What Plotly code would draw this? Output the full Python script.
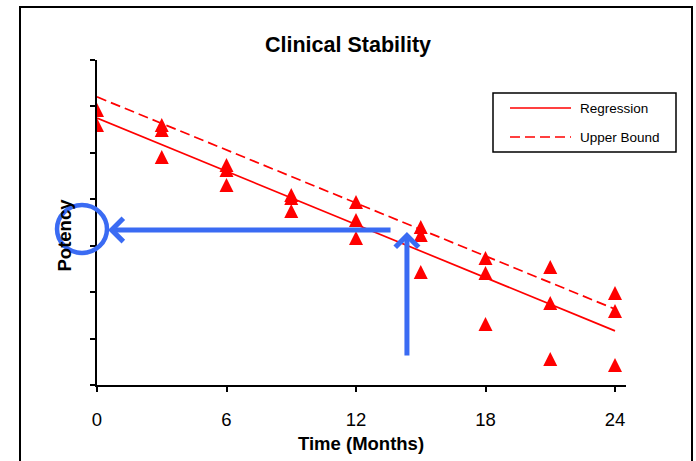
import plotly.graph_objects as go

# Stability data: potency of each batch at each pull point
months = [0, 0, 3, 3, 3, 6, 6, 6, 9, 9, 9, 12, 12, 12,
          15, 15, 15, 18, 18, 18, 21, 21, 21, 24, 24, 24]
potency = [97.85, 97.20, 97.20, 96.98, 95.82, 95.48, 95.26, 94.62,
           94.18, 94.06, 93.50, 93.88, 93.11, 92.33, 92.81, 92.46, 90.87,
           91.47, 90.82, 88.63, 91.08, 89.53, 87.12, 89.96, 89.19, 86.86]

# Fitted regression line and its upper bound
fit_months = [0, 24]
regression = [97.50, 88.33]
upper_bound = [98.41, 89.27]

x_ticks = [0, 6, 12, 18, 24]
legend_names = ["Regression", "Upper Bound"]

# Arrow end points (months, potency)
h_arrow_tip = (0.51, 92.68)
h_arrow_tail = (13.67, 92.68)
v_arrow_tip = (14.36, 92.59)
v_arrow_tail = (14.36, 87.21)

W, H = 696, 461
PL, PR, PT, PB = 97, 626, 60, 385
FONT = "Liberation Sans, Arial, sans-serif"
RED = "#FF0000"
BLUE = "#3A6BF3"


def fx(px):
    return (px - PL) / (PR - PL)


def fy(py):
    return (PB - py) / (PB - PT)


def label(text, px, py, size, bold=False, angle=0, anchor="center"):
    return dict(text=text, xref="paper", yref="paper", x=fx(px), y=fy(py),
                xanchor=anchor, yanchor="middle", showarrow=False,
                textangle=angle,
                font=dict(family=FONT, size=size, color="black",
                          weight="bold" if bold else "normal"))


MSIZE = 14
fig = go.Figure()
fig.add_trace(go.Scatter(
    x=months, y=potency, mode="markers", showlegend=False,
    marker=dict(symbol="arrow-down", angle=180, standoff=MSIZE / 2,
                size=MSIZE, color=RED, line=dict(width=0)),
))
fig.add_trace(go.Scatter(
    x=fit_months, y=regression, mode="lines", name=legend_names[0],
    showlegend=False, line=dict(color=RED, width=1.7),
))
fig.add_trace(go.Scatter(
    x=fit_months, y=upper_bound, mode="lines", name=legend_names[1],
    showlegend=False, line=dict(color=RED, width=1.7, dash="10px,5px"),
))

shapes = [
    # outer chart frame
    dict(type="rect", xref="paper", yref="paper",
         x0=fx(20), x1=fx(692), y0=fy(475), y1=fy(7),
         line=dict(color="black", width=2), layer="below"),
    # legend box
    dict(type="rect", xref="paper", yref="paper",
         x0=fx(493), x1=fx(676), y0=fy(152), y1=fy(93),
         line=dict(color="black", width=1.5), fillcolor="white"),
    dict(type="line", xref="paper", yref="paper",
         x0=fx(510), x1=fx(571), y0=fy(108), y1=fy(108),
         line=dict(color=RED, width=1.7)),
    dict(type="line", xref="paper", yref="paper",
         x0=fx(510), x1=fx(571), y0=fy(137), y1=fy(137),
         line=dict(color=RED, width=1.7, dash="10px,5px")),
    # highlight circle on the potency axis
    dict(type="circle", xref="paper", yref="paper",
         x0=fx(57), x1=fx(107), y0=fy(253), y1=fy(205),
         line=dict(color=BLUE, width=4.5), layer="above"),
]

annotations = [
    label("Clinical Stability", 347.5, 45, 21.5, bold=True),
    label("Time (Months)", 361, 443, 18.5, bold=True),
    label("Potency", 63.5, 235, 18.5, bold=True, angle=-90),
    label(legend_names[0], 578, 108, 13.5, anchor="left"),
    label(legend_names[1], 578, 137, 13.5, anchor="left"),
    dict(text="", xref="x", yref="y", axref="x", ayref="y",
         x=h_arrow_tip[0], y=h_arrow_tip[1],
         ax=h_arrow_tail[0], ay=h_arrow_tail[1],
         showarrow=True, arrowhead=4, arrowsize=0.9, arrowwidth=5,
         arrowcolor=BLUE),
    dict(text="", xref="x", yref="y", axref="x", ayref="y",
         x=v_arrow_tip[0], y=v_arrow_tip[1],
         ax=v_arrow_tail[0], ay=v_arrow_tail[1],
         showarrow=True, arrowhead=4, arrowsize=0.9, arrowwidth=5,
         arrowcolor=BLUE),
]

fig.update_layout(
    width=W, height=H,
    margin=dict(l=PL, r=W - PR, t=PT, b=H - PB, pad=0),
    paper_bgcolor="white", plot_bgcolor="white",
    shapes=shapes, annotations=annotations,
    font=dict(family=FONT, color="black"),
)
fig.update_xaxes(
    range=[0, (PR - PL) / ((615 - PL) / 24)],
    tickmode="array", tickvals=x_ticks, ticktext=[str(t) for t in x_ticks],
    ticks="outside", ticklen=5, tickwidth=1.5, tickcolor="black",
    showline=True, linecolor="black", linewidth=2,
    showgrid=False, zeroline=False,
    tickfont=dict(family=FONT, size=18.5, color="black"),
    ticklabelstandoff=12,
)
fig.update_yaxes(
    range=[86, 100], dtick=2, tick0=86,
    ticks="outside", ticklen=5, tickwidth=1.5, tickcolor="black",
    showline=True, linecolor="black", linewidth=2,
    showgrid=False, zeroline=False, showticklabels=False,
)

fig.write_html("out.html")
